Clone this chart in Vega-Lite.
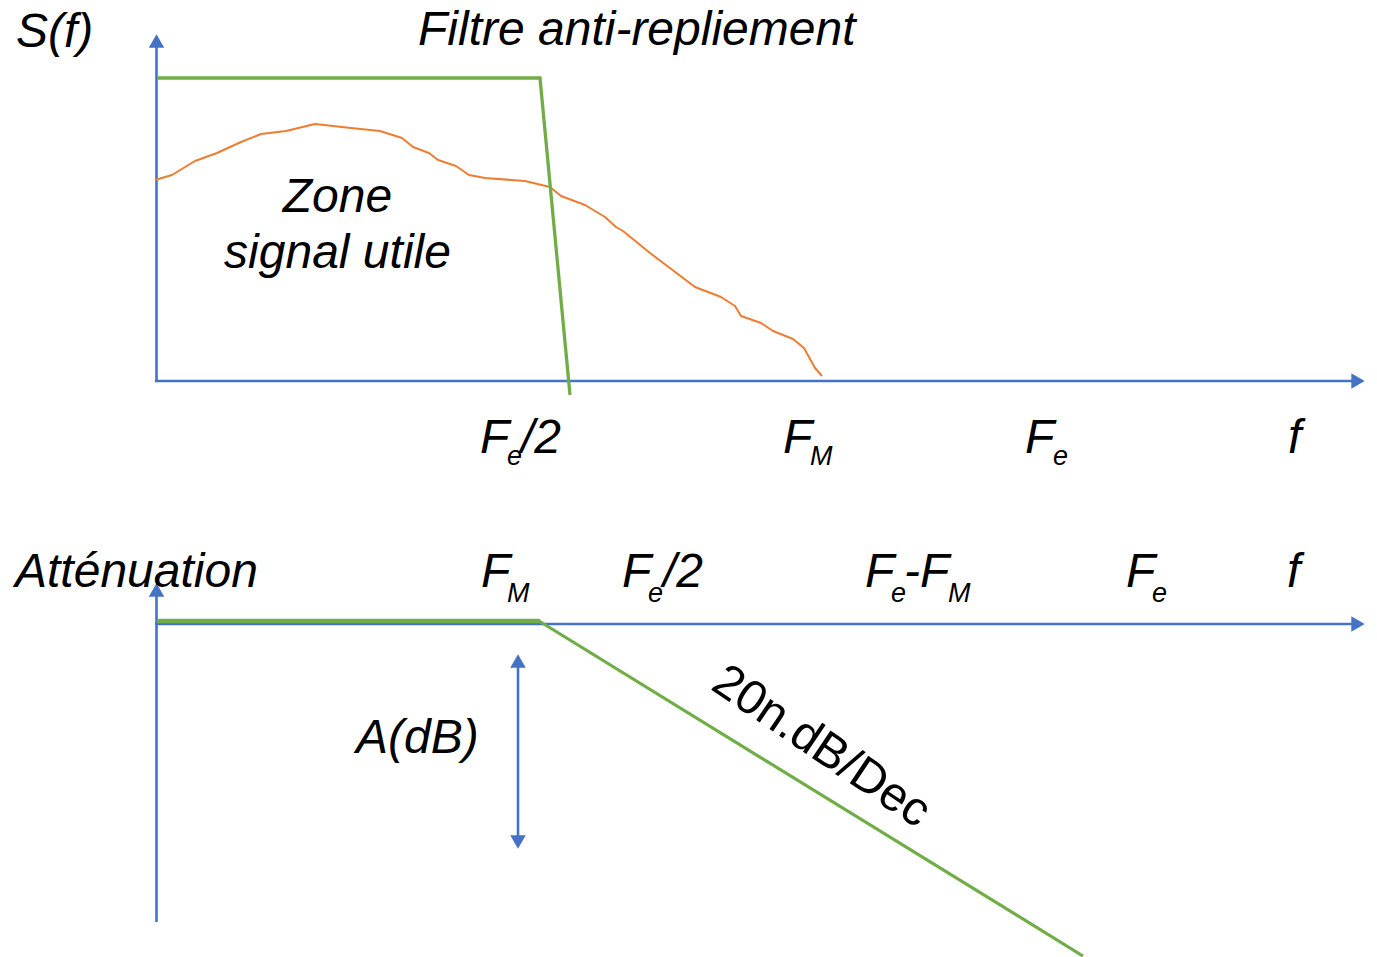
{
  "$schema": "https://vega.github.io/schema/vega-lite/v6.json",
  "width": 1377,
  "height": 957,
  "padding": 0,
  "autosize": {"type": "none"},
  "background": "white",
  "config": {"view": {"stroke": null}, "font": "Liberation Sans"},
  "datasets": {
    "blue": [
      {"x": 156.5, "y": 381, "x2": 156.5, "y2": 46},
      {"x": 155, "y": 381, "x2": 1352, "y2": 381},
      {"x": 156.5, "y": 922, "x2": 156.5, "y2": 594},
      {"x": 155, "y": 624, "x2": 1352, "y2": 624},
      {"x": 518, "y": 666, "x2": 518, "y2": 837}
    ],
    "arrows_up": [{"x": 156.5, "y": 41}, {"x": 156.5, "y": 590}, {"x": 518, "y": 661}],
    "arrows_right": [{"x": 1358, "y": 381}, {"x": 1358, "y": 624}],
    "arrows_down": [{"x": 518, "y": 842}],
    "green_top": [{"x": 157, "y": 78}, {"x": 540, "y": 78}, {"x": 570, "y": 395}],
    "green_flat": [{"x": 157, "y": 621}, {"x": 540, "y": 621}],
    "green_slope": [{"x": 539, "y": 621}, {"x": 1083, "y": 956}],
    "orange": [
      {"x": 155, "y": 180}, {"x": 172, "y": 175}, {"x": 195, "y": 161}, {"x": 217, "y": 153},
      {"x": 241, "y": 142}, {"x": 261, "y": 134}, {"x": 286, "y": 131}, {"x": 315, "y": 124},
      {"x": 351, "y": 128}, {"x": 380, "y": 131}, {"x": 402, "y": 138}, {"x": 413, "y": 147},
      {"x": 429, "y": 153}, {"x": 438, "y": 160}, {"x": 456, "y": 166}, {"x": 469, "y": 175},
      {"x": 485, "y": 178}, {"x": 525, "y": 181}, {"x": 550, "y": 187}, {"x": 561, "y": 196},
      {"x": 585, "y": 205}, {"x": 605, "y": 217}, {"x": 616, "y": 227}, {"x": 623, "y": 231},
      {"x": 650, "y": 253}, {"x": 695, "y": 287}, {"x": 721, "y": 297}, {"x": 735, "y": 306},
      {"x": 741, "y": 316}, {"x": 761, "y": 323}, {"x": 773, "y": 331}, {"x": 793, "y": 339},
      {"x": 804, "y": 348}, {"x": 815, "y": 368}, {"x": 822, "y": 376}
    ],
    "big_left": [
      {"x": 16, "y": 47, "t": "S(f)"},
      {"x": 418, "y": 45, "t": "Filtre anti-repliement"},
      {"x": 356, "y": 753, "t": "A(dB)"},
      {"x": 15, "y": 587, "t": "Atténuation"},
      {"x": 480, "y": 453, "t": "F"},
      {"x": 521, "y": 453, "t": "/2"},
      {"x": 783, "y": 453, "t": "F"},
      {"x": 1025, "y": 453, "t": "F"},
      {"x": 1288, "y": 453, "t": "f"},
      {"x": 481, "y": 587, "t": "F"},
      {"x": 622, "y": 587, "t": "F"},
      {"x": 663, "y": 587, "t": "/2"},
      {"x": 865, "y": 587, "t": "F"},
      {"x": 904, "y": 587, "t": "-"},
      {"x": 920, "y": 587, "t": "F"},
      {"x": 1126, "y": 587, "t": "F"},
      {"x": 1287, "y": 587, "t": "f"}
    ],
    "big_center": [
      {"x": 337.5, "y": 212, "t": "Zone"},
      {"x": 337.5, "y": 268, "t": "signal utile"}
    ],
    "subs": [
      {"x": 507, "y": 465, "t": "e"},
      {"x": 810, "y": 465, "t": "M"},
      {"x": 1053, "y": 465, "t": "e"},
      {"x": 507, "y": 602, "t": "M"},
      {"x": 648, "y": 602, "t": "e"},
      {"x": 891, "y": 602, "t": "e"},
      {"x": 948, "y": 602, "t": "M"},
      {"x": 1152, "y": 602, "t": "e"}
    ],
    "slope_label": [{"x": 821, "y": 747, "t": "20n.dB/Dec"}]
  },
  "encoding": {
    "x": {"field": "x", "type": "quantitative", "scale": {"domain": [0, 1377], "nice": false, "zero": false}, "axis": null},
    "y": {"field": "y", "type": "quantitative", "scale": {"domain": [0, 957], "nice": false, "zero": false, "reverse": true}, "axis": null}
  },
  "layer": [
    {
      "data": {"name": "blue"},
      "mark": {"type": "rule", "color": "#4472C4", "strokeWidth": 2.6},
      "encoding": {"x2": {"field": "x2"}, "y2": {"field": "y2"}}
    },
    {
      "data": {"name": "arrows_up"},
      "mark": {"type": "point", "shape": "triangle-up", "filled": true, "color": "#4472C4", "size": 240, "opacity": 1},
      "encoding": {}
    },
    {
      "data": {"name": "arrows_right"},
      "mark": {"type": "point", "shape": "triangle-right", "filled": true, "color": "#4472C4", "size": 240, "opacity": 1},
      "encoding": {}
    },
    {
      "data": {"name": "arrows_down"},
      "mark": {"type": "point", "shape": "triangle-down", "filled": true, "color": "#4472C4", "size": 240, "opacity": 1},
      "encoding": {}
    },
    {
      "data": {"name": "orange"},
      "mark": {"type": "line", "color": "#ED7D31", "strokeWidth": 2, "strokeJoin": "round"},
      "encoding": {}
    },
    {
      "data": {"name": "green_top"},
      "mark": {"type": "line", "color": "#70AD47", "strokeWidth": 3.3, "strokeJoin": "miter"},
      "encoding": {}
    },
    {
      "data": {"name": "green_flat"},
      "mark": {"type": "line", "color": "#70AD47", "strokeWidth": 4.5},
      "encoding": {}
    },
    {
      "data": {"name": "green_slope"},
      "mark": {"type": "line", "color": "#70AD47", "strokeWidth": 3.2},
      "encoding": {}
    },
    {
      "data": {"name": "big_left"},
      "mark": {"type": "text", "font": "Liberation Sans", "fontStyle": "italic", "fontSize": 48, "align": "left", "baseline": "alphabetic", "color": "black"},
      "encoding": {"text": {"field": "t"}}
    },
    {
      "data": {"name": "big_center"},
      "mark": {"type": "text", "font": "Liberation Sans", "fontStyle": "italic", "fontSize": 48, "align": "center", "baseline": "alphabetic", "color": "black"},
      "encoding": {"text": {"field": "t"}}
    },
    {
      "data": {"name": "subs"},
      "mark": {"type": "text", "font": "Liberation Sans", "fontStyle": "italic", "fontSize": 27, "align": "left", "baseline": "alphabetic", "color": "black"},
      "encoding": {"text": {"field": "t"}}
    },
    {
      "data": {"name": "slope_label"},
      "mark": {"type": "text", "font": "Liberation Sans", "fontSize": 48, "align": "center", "baseline": "middle", "angle": 34, "color": "black"},
      "encoding": {"text": {"field": "t"}}
    }
  ]
}
